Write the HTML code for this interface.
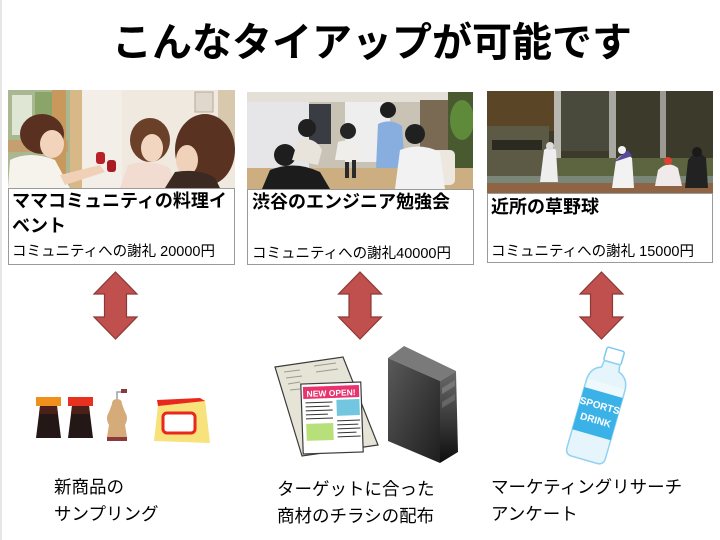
<!DOCTYPE html>
<html><head><meta charset="utf-8">
<style>
html,body{margin:0;padding:0;background:#fff;}
#c{position:relative;width:720px;height:540px;overflow:hidden;background:#fff;font-family:"Liberation Sans","Noto Sans CJK JP",sans-serif;color:#000;}
.t{position:absolute;white-space:nowrap;font-family:"Liberation Sans","Noto Sans CJK JP",sans-serif;}
svg{position:absolute;left:0;top:0;}
</style></head><body>
<div id="c">
<svg width="720" height="540" viewBox="0 0 720 540">
  <rect x="0" y="0" width="2" height="540" fill="#e6e6e6"/>
  <!-- Photo 1 -->
  <clipPath id="p1"><rect x="8" y="90" width="227" height="98"/></clipPath>
  <g clip-path="url(#p1)">
    <rect x="8" y="90" width="227" height="98" fill="#efe9df"/>
    <rect x="8" y="90" width="62" height="98" fill="#a9b890"/>
    <rect x="12" y="95" width="20" height="40" fill="#dfe6d3"/>
    <rect x="35" y="92" width="18" height="50" fill="#8aa46a"/>
    <rect x="8" y="140" width="60" height="12" fill="#c4a070"/>
    <rect x="52" y="90" width="14" height="98" fill="#c8985c"/>
    <rect x="70" y="90" width="12" height="98" fill="#d9b888"/>
    <rect x="82" y="90" width="40" height="98" fill="#f3efe8"/>
    <rect x="195" y="92" width="18" height="20" fill="#e0d8cc" stroke="#b8aa96"/>
    <rect x="218" y="90" width="17" height="60" fill="#d8c8ae"/>
    <ellipse cx="42" cy="134" rx="22" ry="20" fill="#5a3020"/>
    <ellipse cx="52" cy="144" rx="12" ry="14" fill="#f2d4bc"/>
    <path d="M8 188 L10 160 Q30 150 55 160 L70 188 Z" fill="#f6f2ec"/>
    <path d="M60 175 L100 165 L105 172 L65 185 Z" fill="#f0d0b6"/>
    <rect x="96" y="152" width="9" height="12" rx="3" fill="#b8202a"/>
    <rect x="107" y="160" width="9" height="12" rx="3" fill="#a81a24"/>
    <ellipse cx="150" cy="140" rx="20" ry="22" fill="#6a4028"/>
    <ellipse cx="152" cy="148" rx="11" ry="14" fill="#f2d6c0"/>
    <path d="M120 188 L128 165 Q150 158 170 168 L175 188 Z" fill="#f2dcd2"/>
    <ellipse cx="205" cy="150" rx="30" ry="36" fill="#5a3222"/>
    <ellipse cx="187" cy="160" rx="11" ry="15" fill="#f0d2ba"/>
    <path d="M165 188 L175 172 Q200 168 215 178 L220 188 Z" fill="#3a2a22"/>
  </g>
  <rect x="8.5" y="188.5" width="226" height="76" fill="#fff" stroke="#9a9a9a" stroke-width="1"/>

  <!-- Photo 2 -->
  <clipPath id="p2"><rect x="247" y="92" width="226" height="97"/></clipPath>
  <g clip-path="url(#p2)">
    <rect x="247" y="92" width="226" height="97" fill="#c9c3b6"/>
    <rect x="247" y="92" width="226" height="10" fill="#e4e0d8"/>
    <rect x="247" y="102" width="62" height="70" fill="#e6e6e8"/>
    <rect x="309" y="104" width="22" height="40" fill="#3a3c44"/>
    <rect x="345" y="102" width="45" height="60" fill="#eeeeee"/>
    <rect x="420" y="100" width="30" height="80" fill="#7a6a54"/>
    <rect x="448" y="92" width="25" height="97" fill="#4a5a30"/>
    <ellipse cx="462" cy="120" rx="12" ry="20" fill="#5e8a3a"/>
    <rect x="247" y="168" width="226" height="21" fill="#cdae80"/>
    <rect x="430" y="150" width="25" height="35" rx="5" fill="#ece8e0"/>
    <circle cx="285" cy="155" r="11" fill="#1e1e1e"/>
    <path d="M262 189 L270 170 Q295 160 320 172 L330 189 Z" fill="#1c1c1c"/>
    <circle cx="307" cy="128" r="9" fill="#202020"/>
    <path d="M292 160 L298 140 Q315 136 322 150 L318 165 Z" fill="#e8e4dc"/>
    <circle cx="348" cy="131" r="8" fill="#242424"/>
    <path d="M335 160 L338 142 Q350 138 362 144 L362 160 Z" fill="#f0eeea"/>
    <circle cx="388" cy="110" r="8" fill="#1e1e1e"/>
    <path d="M376 168 L378 124 Q390 118 402 126 L405 168 Z" fill="#88aee0"/>
    <circle cx="415" cy="134" r="10" fill="#202020"/>
    <path d="M395 189 L400 150 Q420 142 440 152 L445 189 Z" fill="#f2f2f2"/>
    <rect x="345" y="162" width="4" height="16" fill="#2a2a2a"/>
    <rect x="352" y="160" width="4" height="18" fill="#2a2a2a"/>
  </g>
  <rect x="247.5" y="189.5" width="226" height="75" fill="#fff" stroke="#9a9a9a" stroke-width="1"/>

  <!-- Photo 3 -->
  <clipPath id="p3"><rect x="487" y="91" width="226" height="102"/></clipPath>
  <g clip-path="url(#p3)">
    <rect x="487" y="91" width="226" height="102" fill="#3c3a2a"/>
    <rect x="487" y="91" width="70" height="40" fill="#5a4626"/>
    <rect x="487" y="126" width="62" height="50" fill="#5c5a44"/>
    <rect x="492" y="140" width="50" height="10" fill="#2a2a20"/>
    <rect x="554" y="91" width="7" height="70" fill="#b8b8b0"/>
    <rect x="609" y="91" width="7" height="70" fill="#a8a8a0"/>
    <rect x="660" y="91" width="6" height="70" fill="#9a9a92"/>
    <rect x="561" y="91" width="48" height="60" fill="#4a4a3c"/>
    <rect x="549" y="158" width="164" height="26" fill="#5c6440"/>
    <rect x="487" y="176" width="226" height="8" fill="#7a8678"/>
    <rect x="487" y="183" width="226" height="10" fill="#8e6444"/>
    <path d="M540 182 L544 150 Q550 145 556 150 L558 182 Z" fill="#eeeeee"/>
    <circle cx="550" cy="146" r="4" fill="#ddd"/>
    <path d="M612 188 L616 160 Q624 150 632 158 L634 188 Z" fill="#f2f2f2"/>
    <path d="M614 162 L628 150 L632 156 Z" fill="#5a4a9a"/>
    <circle cx="622" cy="150" r="4" fill="#f4f4f4"/>
    <path d="M655 186 L658 170 Q668 160 678 168 L682 186 Z" fill="#f0eaea"/>
    <circle cx="668" cy="161" r="4" fill="#e04030"/>
    <path d="M685 188 L688 160 Q697 148 706 158 L708 188 Z" fill="#222"/>
    <circle cx="697" cy="152" r="5" fill="#1a1a1a"/>
  </g>
  <rect x="487.5" y="193.5" width="225" height="69" fill="#fff" stroke="#9a9a9a" stroke-width="1"/>

  <!-- Arrows -->
  <g fill="#c0504d" stroke="#8c3836" stroke-width="1.2" stroke-linejoin="miter">
    <polygon points="115.5,272 137,294 126.5,294 126.5,317 137,317 115.5,339 94,317 104.5,317 104.5,294 94,294"/>
    <polygon points="360,272 381.5,294 371,294 371,317 381.5,317 360,339 338.5,317 349,317 349,294 338.5,294"/>
    <polygon points="601.5,272 623,294 612.5,294 612.5,317 623,317 601.5,339 580,317 590.5,317 590.5,294 580,294"/>
  </g>

  <!-- Soy sauce bottles -->
  <rect x="36" y="397" width="25" height="9" fill="#f0901c"/>
  <path d="M40 406 L57 406 L61 438 L36 438 Z" fill="#231815"/>
  <path d="M40 406 L57 406 L58 414 L39 414 Z" fill="#4a2018"/>
  <rect x="68" y="397" width="25" height="9" fill="#e8301e"/>
  <path d="M72 406 L89 406 L93 438 L68 438 Z" fill="#231815"/>
  <path d="M72 406 L89 406 L90 414 L71 414 Z" fill="#4a2018"/>
  <!-- pepper grinder -->
  <path d="M117 402 L117 392 L125 392" stroke="#9aa0a8" stroke-width="1.5" fill="none"/>
  <rect x="121" y="389" width="6" height="4" fill="#8a3a3a"/>
  <path d="M112 404 Q112 399 117 399 Q122 399 122 404 L125 412 Q129 418 125 425 L127 437 L107 437 L109 425 Q105 418 109 412 Z" fill="#d6ab7a"/>
  <rect x="107" y="437" width="20" height="4" fill="#8a3a3a"/>
  <!-- yellow box -->
  <path d="M158 405 L205 400 L210 443 L154 441 Z" fill="#f8e27c"/>
  <path d="M157 400 L200 398 L205 401 L158 406 Z" fill="#e8281c"/>
  <rect x="163" y="413" width="32" height="20" rx="4" fill="#fff" stroke="#e8281c" stroke-width="3"/>

  <!-- Newspaper -->
  <path d="M275 367 L343 357 L378 445 L302 456 Z" fill="#e6e4d6" stroke="#3a3a3a" stroke-width="1.2"/>
  <g stroke="#9a9a90" stroke-width="1">
    <line x1="284" y1="372" x2="300" y2="370"/><line x1="286" y1="378" x2="302" y2="376"/>
    <line x1="288" y1="384" x2="300" y2="382"/><line x1="290" y1="390" x2="300" y2="389"/>
    <line x1="314" y1="366" x2="336" y2="363"/><line x1="316" y1="372" x2="338" y2="369"/>
  </g>
  <g transform="rotate(-2 332 418)">
    <rect x="302" y="383" width="60" height="70" fill="#fff" stroke="#3a3a3a" stroke-width="1.2"/>
    <rect x="304" y="386" width="56" height="12" fill="#e8336f"/>
    <rect x="337" y="400" width="23" height="16" fill="#72c6e0"/>
    <rect x="306" y="423" width="27" height="17" fill="#b8e07a"/>
    <g stroke="#333" stroke-width="1">
      <line x1="306" y1="402" x2="333" y2="402"/><line x1="306" y1="406" x2="330" y2="406"/>
      <line x1="306" y1="410" x2="333" y2="410"/><line x1="306" y1="414" x2="328" y2="414"/>
      <line x1="306" y1="418" x2="333" y2="418"/>
      <line x1="337" y1="421" x2="360" y2="421"/><line x1="337" y1="425" x2="358" y2="425"/>
      <line x1="337" y1="429" x2="360" y2="429"/><line x1="337" y1="433" x2="356" y2="433"/>
      <line x1="337" y1="437" x2="360" y2="437"/>
    </g>
    <text x="332" y="396" text-anchor="middle" font-family="Liberation Sans, sans-serif" font-weight="bold" font-size="8.5" fill="#fff">NEW OPEN!</text>
  </g>

  <!-- Server -->
  <defs>
    <linearGradient id="sf" x1="0" y1="0" x2="1" y2="1">
      <stop offset="0" stop-color="#5a5a5a"/><stop offset="1" stop-color="#1e1e1e"/>
    </linearGradient>
    <linearGradient id="sr" x1="0" y1="0" x2="0" y2="1">
      <stop offset="0" stop-color="#6a6a6a"/><stop offset="1" stop-color="#0e0e0e"/>
    </linearGradient>
  </defs>
  <path d="M388 358 L404 346 L456 371 L440 381 Z" fill="#7a7a7a"/>
  <path d="M388 358 L440 381 L440 463 L388 441 Z" fill="url(#sf)"/>
  <path d="M440 381 L456 371 L458 452 L440 463 Z" fill="url(#sr)"/>
  <path d="M442 388 L455 380 L455 386 L442 394 Z" fill="#777"/>
  <path d="M442 402 L455 394 L455 400 L442 408 Z" fill="#666"/>

  <!-- Sports drink bottle -->
  <g transform="rotate(16 600 405)">
    <rect x="591" y="347" width="18" height="14" rx="2" fill="#fff" stroke="#7cc8f0" stroke-width="1.5"/>
    <path d="M592 361 L608 361 L609 368 Q620 372 620 385 L620 455 Q620 462 613 462 L587 462 Q580 462 580 455 L580 385 Q580 372 591 368 Z" fill="#e6f4fb" stroke="#8fd2f2" stroke-width="1.5"/>
    <rect x="581" y="383" width="38" height="50" fill="#eef8fd"/>
    <rect x="580" y="392" width="40" height="44" fill="#3ab2e8"/>
    <text x="600" y="409" text-anchor="middle" font-family="Liberation Sans, sans-serif" font-weight="bold" font-size="10" fill="#fff">SPORTS</text>
    <text x="600" y="424" text-anchor="middle" font-family="Liberation Sans, sans-serif" font-weight="bold" font-size="10" fill="#fff">DRINK</text>
  </g>
</svg>

<div class="t" style="left:112px;top:23px;font-size:40px;line-height:40px;font-weight:bold;">こんなタイアップが可能です</div>

<div class="t" style="left:12px;top:192px;font-size:18px;line-height:18px;font-weight:bold;">ママコミュニティの料理イ</div>
<div class="t" style="left:12px;top:217px;font-size:18px;line-height:18px;font-weight:bold;">ベント</div>
<div class="t" style="left:12px;top:245px;font-size:14.5px;line-height:15px;">コミュニティへの謝礼 20000円</div>

<div class="t" style="left:252px;top:193px;font-size:18px;line-height:18px;font-weight:bold;">渋谷のエンジニア勉強会</div>
<div class="t" style="left:252px;top:247px;font-size:14.5px;line-height:15px;">コミュニティへの謝礼40000円</div>

<div class="t" style="left:491px;top:198px;font-size:18px;line-height:18px;font-weight:bold;">近所の草野球</div>
<div class="t" style="left:491px;top:245px;font-size:14.5px;line-height:15px;">コミュニティへの謝礼 15000円</div>

<div class="t" style="left:54px;top:478px;font-size:17.5px;line-height:18px;">新商品の</div>
<div class="t" style="left:54px;top:505px;font-size:17.5px;line-height:18px;">サンプリング</div>

<div class="t" style="left:277px;top:480px;font-size:17.5px;line-height:18px;">ターゲットに合った</div>
<div class="t" style="left:277px;top:507px;font-size:17.5px;line-height:18px;">商材のチラシの配布</div>

<div class="t" style="left:491px;top:478px;font-size:17.5px;line-height:18px;">マーケティングリサーチ</div>
<div class="t" style="left:491px;top:505px;font-size:17.5px;line-height:18px;">アンケート</div>
</div>
</body></html>
